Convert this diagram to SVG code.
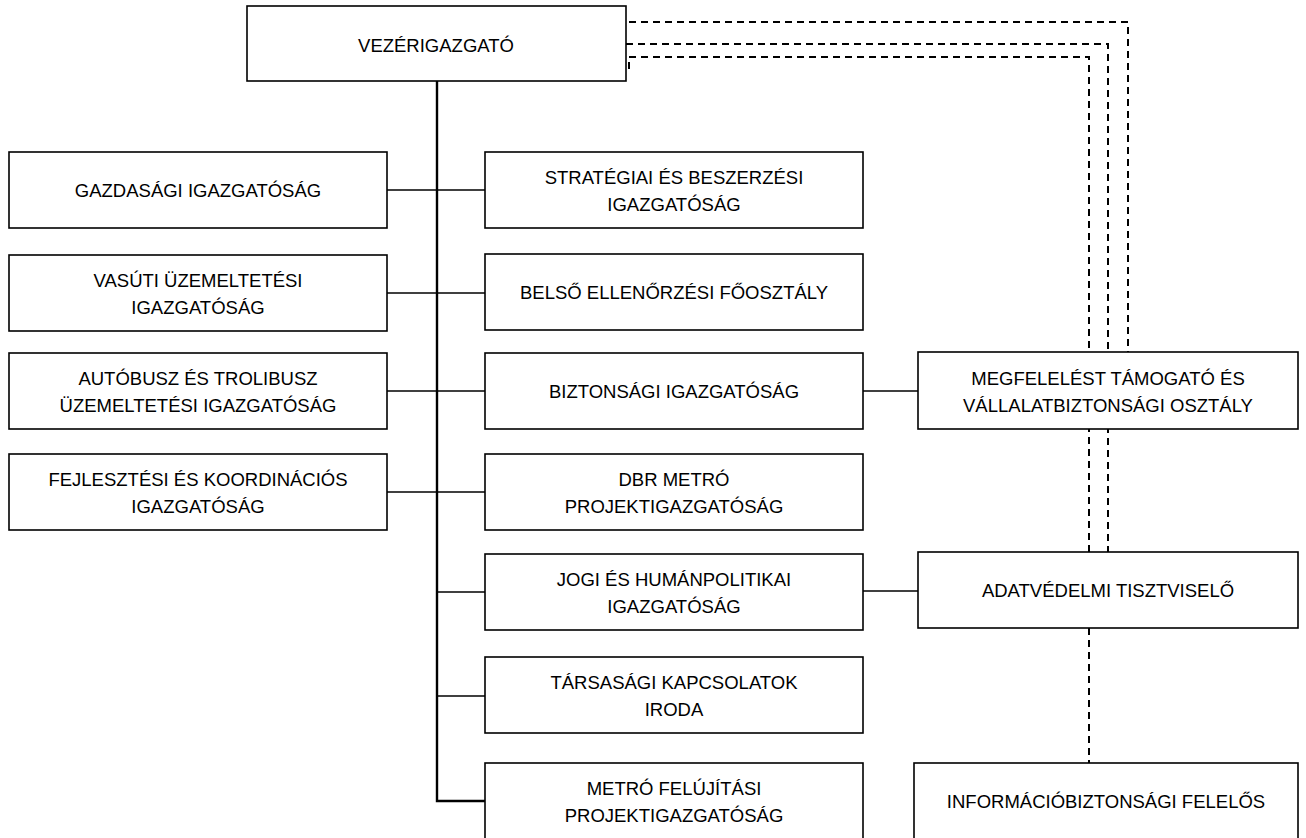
<svg xmlns="http://www.w3.org/2000/svg" width="1306" height="838" viewBox="0 0 1306 838">
<style>
.box{fill:#fff;stroke:#000;stroke-width:1.6}
.t{font-family:"Liberation Sans",Arial,sans-serif;font-size:18.5px;fill:#000;text-anchor:middle}
.ln{fill:none;stroke:#000;stroke-width:1.6}
.trunk{fill:none;stroke:#000;stroke-width:2.4}
.dash{fill:none;stroke:#000;stroke-width:2;stroke-dasharray:7 5}
</style>
<rect width="1306" height="838" fill="#fff"/>
<g id="connectors">
<path class="trunk" d="M437,81 V801 H485"/>
<path class="ln" d="M387,190 H485"/>
<path class="ln" d="M387,293 H485"/>
<path class="ln" d="M387,391 H485"/>
<path class="ln" d="M387,492 H485"/>
<path class="ln" d="M437,592 H485"/>
<path class="ln" d="M437,696 H485"/>
<path class="ln" d="M863,391 H918"/>
<path class="ln" d="M863,591 H918"/>
<path class="dash" d="M629,22 H1128 V352"/>
<path class="dash" d="M626,44 H1108 V552"/>
<path class="dash" d="M629,69 V57 H1089 V552"/>
<path class="dash" d="M1089,628 V763"/>
</g>
<g id="n-vezerigazgato"><rect class="box" x="247" y="6" width="379" height="75"/><text class="t" x="436" y="52">VEZÉRIGAZGATÓ</text></g>
<g id="n-gazdasagi"><rect class="box" x="9" y="152" width="378" height="76"/><text class="t" x="198" y="197">GAZDASÁGI IGAZGATÓSÁG</text></g>
<g id="n-vasuti"><rect class="box" x="9" y="255" width="378" height="76"/><text class="t" x="198" y="287">VASÚTI ÜZEMELTETÉSI</text><text class="t" x="198" y="314">IGAZGATÓSÁG</text></g>
<g id="n-autobusz"><rect class="box" x="9" y="353" width="378" height="76"/><text class="t" x="198" y="385">AUTÓBUSZ ÉS TROLIBUSZ</text><text class="t" x="198" y="412">ÜZEMELTETÉSI IGAZGATÓSÁG</text></g>
<g id="n-fejlesztesi"><rect class="box" x="9" y="454" width="378" height="76"/><text class="t" x="198" y="486">FEJLESZTÉSI ÉS KOORDINÁCIÓS</text><text class="t" x="198" y="513">IGAZGATÓSÁG</text></g>
<g id="n-strategiai"><rect class="box" x="485" y="152" width="378" height="76"/><text class="t" x="674" y="184">STRATÉGIAI ÉS BESZERZÉSI</text><text class="t" x="674" y="211">IGAZGATÓSÁG</text></g>
<g id="n-belso"><rect class="box" x="485" y="254" width="378" height="76"/><text class="t" x="674" y="299">BELSŐ ELLENŐRZÉSI FŐOSZTÁLY</text></g>
<g id="n-biztonsagi"><rect class="box" x="485" y="353" width="378" height="76"/><text class="t" x="674" y="398">BIZTONSÁGI IGAZGATÓSÁG</text></g>
<g id="n-dbr"><rect class="box" x="485" y="454" width="378" height="76"/><text class="t" x="674" y="486">DBR METRÓ</text><text class="t" x="674" y="513">PROJEKTIGAZGATÓSÁG</text></g>
<g id="n-jogi"><rect class="box" x="485" y="554" width="378" height="76"/><text class="t" x="674" y="586">JOGI ÉS HUMÁNPOLITIKAI</text><text class="t" x="674" y="613">IGAZGATÓSÁG</text></g>
<g id="n-tarsasagi"><rect class="box" x="485" y="657" width="378" height="76"/><text class="t" x="674" y="689">TÁRSASÁGI KAPCSOLATOK</text><text class="t" x="674" y="716">IRODA</text></g>
<g id="n-metro"><rect class="box" x="485" y="763" width="378" height="76"/><text class="t" x="674" y="795">METRÓ FELÚJÍTÁSI</text><text class="t" x="674" y="822">PROJEKTIGAZGATÓSÁG</text></g>
<g id="n-megfeleles"><rect class="box" x="918" y="352" width="380" height="77"/><text class="t" x="1108" y="385">MEGFELELÉST TÁMOGATÓ ÉS</text><text class="t" x="1108" y="412">VÁLLALATBIZTONSÁGI OSZTÁLY</text></g>
<g id="n-adatvedelmi"><rect class="box" x="918" y="552" width="380" height="76"/><text class="t" x="1108" y="597">ADATVÉDELMI TISZTVISELŐ</text></g>
<g id="n-informacio"><rect class="box" x="914" y="763" width="384" height="76"/><text class="t" x="1106" y="808">INFORMÁCIÓBIZTONSÁGI FELELŐS</text></g>
</svg>
